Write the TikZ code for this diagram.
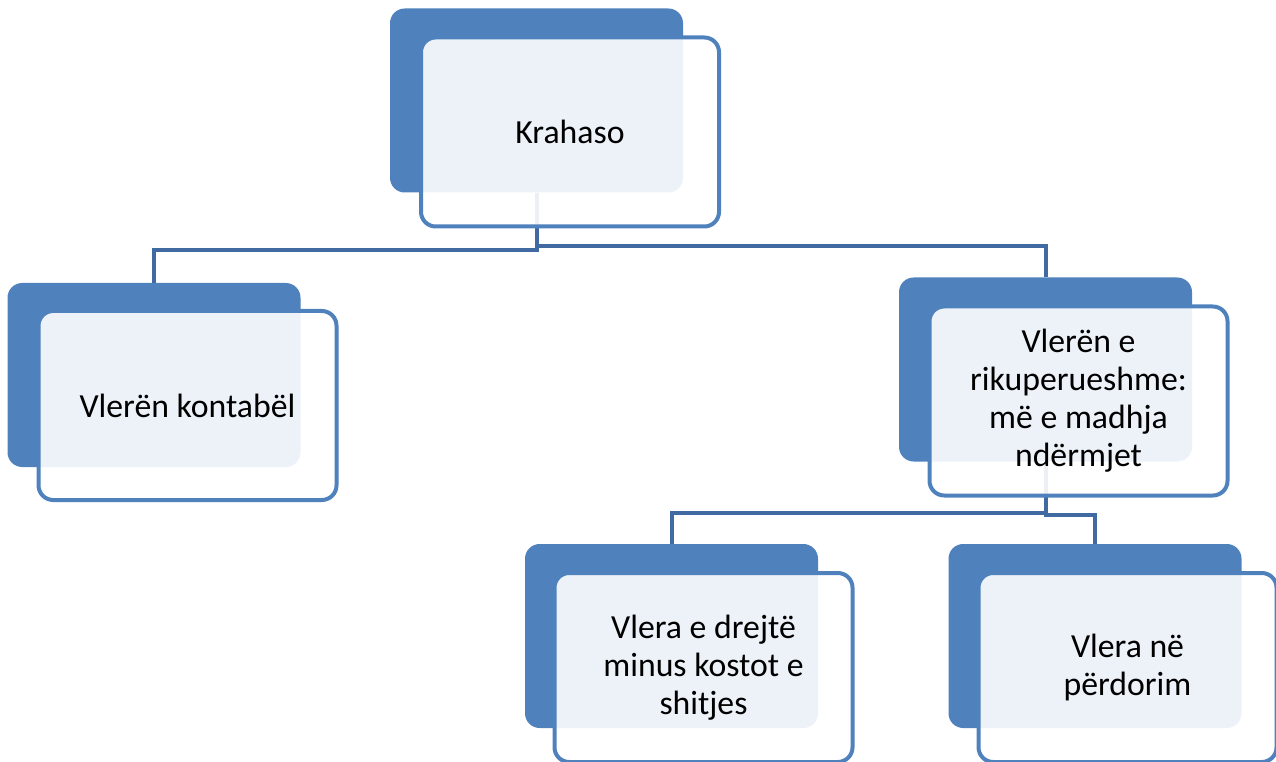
\documentclass[tikz,border=0pt]{standalone}
\usepackage{fontspec}
\setmainfont{Carlito}
\definecolor{accent}{RGB}{79,129,189}
\definecolor{conn}{RGB}{65,106,162}
\tikzset{
  backbox/.style={rectangle, rounded corners=11pt, fill=accent, draw=none,
    minimum width=219.75pt, minimum height=138pt, inner sep=0pt},
  frontbox/.style={rectangle, rounded corners=11pt, draw=accent, line width=3pt,
    fill=white, fill opacity=0.9, text opacity=1, text=black,
    minimum width=223.5pt, minimum height=141.75pt, inner sep=0pt,
    align=center, font=\fontsize{25.3pt}{28.5pt}\selectfont},
  link/.style={draw=conn, line width=3pt}
}
\begin{document}
\begin{tikzpicture}[x=0.75pt,y=-0.75pt]
\useasboundingbox (0,0) rectangle (1276,762);
% back boxes
\node[backbox] (kb) at (536.5,100.5) {};
\node[backbox] (lb) at (154,375) {};
\node[backbox] (rb) at (1045.5,369.5) {};
\node[backbox] (blb) at (671.5,636) {};
\node[backbox] (brb) at (1095,636) {};
% junction levels
\coordinate (h1) at (0,250);
\coordinate (h2) at (0,246);
\coordinate (h3) at (0,513);
\coordinate (h4) at (0,515);
% connectors
\draw[link] (kb.south) -- (kb.south |- h1) -| (lb.north);
\draw[link] (kb.south) -- (kb.south |- h2) -| (rb.north);
\draw[link] (rb.south) -- (rb.south |- h3) -| (blb.north);
\draw[link] (rb.south) -- (rb.south |- h4) -| (brb.north);
% front boxes
\node[frontbox] (k) at (570,132) {Krahaso};
\node[frontbox] (l) at (187.5,405.5) {Vlerën kontabël};
\node[frontbox] (r) at (1078.5,401) {Vlerën e\\rikuperueshme:\\më e madhja\\ndërmjet};
\node[frontbox] (bl) at (703.5,667.5) {Vlera e drejtë\\minus kostot e\\shitjes};
\node[frontbox] (br) at (1127.5,667.5) {Vlera në\\përdorim};
\end{tikzpicture}
\end{document}
